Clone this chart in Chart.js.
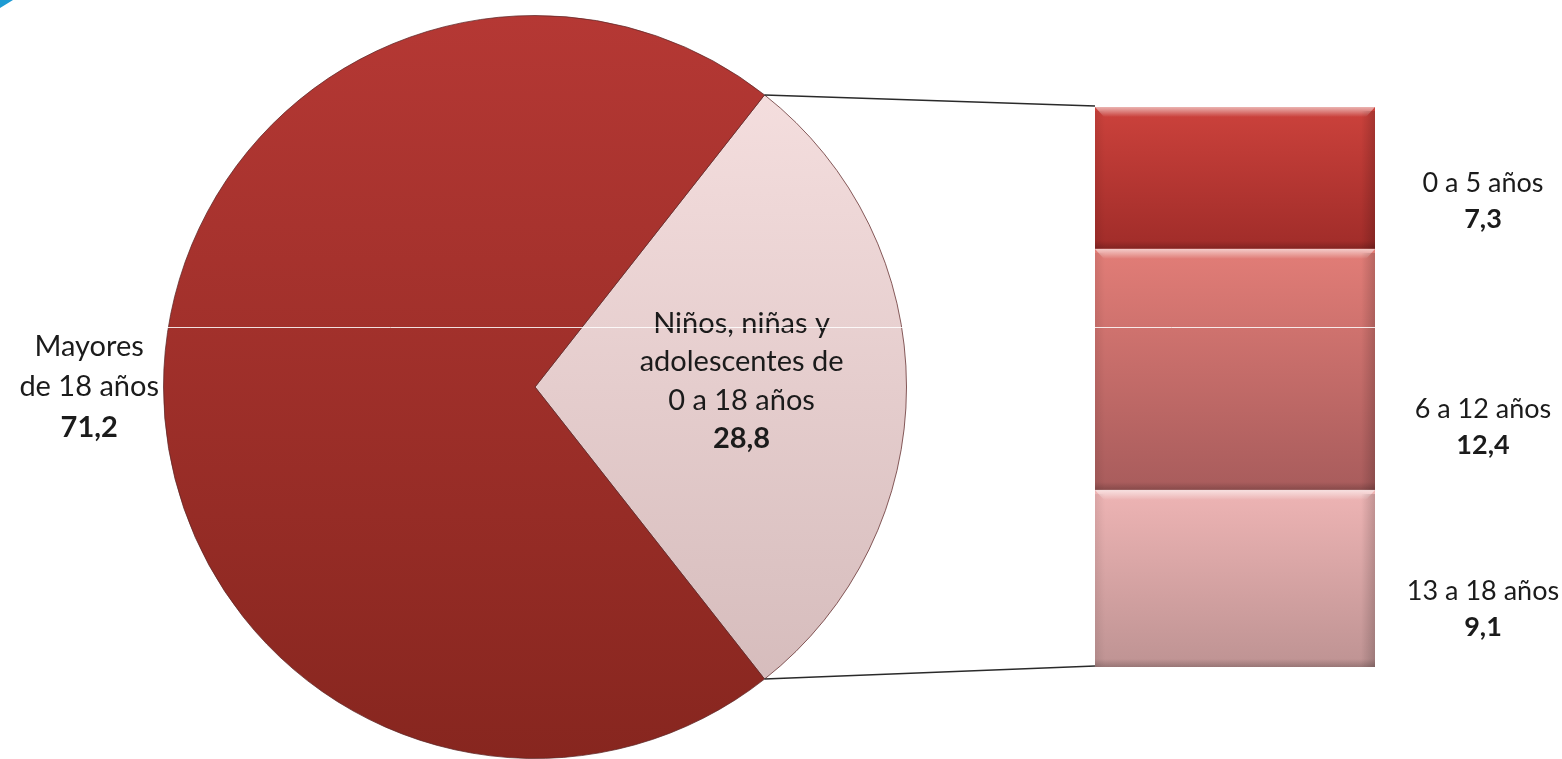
<!DOCTYPE html>
<html>
<head>
<meta charset="utf-8">
<script src="https://cdn.jsdelivr.net/npm/chart.js@4.4.0/dist/chart.umd.min.js"></script>
<style>
html, body { margin: 0; padding: 0; background: #fff; }
#wrap { position: relative; width: 1562px; height: 759px; overflow: hidden; }
#wrap canvas { position: absolute; left: 0; top: 0; }
</style>
</head>
<body>
<div id="wrap">
  <canvas id="pieChart" width="1562" height="759"></canvas>
  <canvas id="barChart" width="1562" height="759"></canvas>
</div>
<script>
// Datos (porcentaje de la población)
const pieLabels = [['Niños, niñas y', 'adolescentes de', '0 a 18 años'], ['Mayores', 'de 18 años']];
const pieValues = [28.8, 71.2];

const barLabels = ['0 a 5 años', '6 a 12 años', '13 a 18 años'];
const barValues = [7.3, 12.4, 9.1];

// Colores (degradado de arriba a abajo)
const pieTop = ['#f8e2e2', '#b53834'];
const pieBottom = ['#d2b8b8', '#87261f'];
const barTop = ['#cc423c', '#e27d77', '#eeb4b4'];
const barBottom = ['#a02c29', '#a85c5c', '#be9393'];
const barLabelDy = [23, 58, 31];

const fmt = v => v.toFixed(1).replace('.', ',');
const total = pieValues[0] + pieValues[1];

function pieGradient(ctx) {
    const chart = ctx.chart;
    const a = chart.chartArea;
    const i = ctx.dataIndex;
    if (!a) return pieTop[i];
    const g = chart.ctx.createLinearGradient(0, a.top, 0, a.bottom);
    g.addColorStop(0, pieTop[i]);
    g.addColorStop(1, pieBottom[i]);
    return g;
}

const pieLabelPlugin = {
    id: 'pieLabels',
    afterDatasetsDraw(chart) {
        const c = chart.ctx;
        const arcs = chart.getDatasetMeta(0).data;
        c.save();
        c.textAlign = 'center';
        c.textBaseline = 'middle';
        c.fillStyle = '#1b1b1b';
        arcs.forEach((arc, i) => {
            const mid = (arc.startAngle + arc.endAngle) / 2;
            const k = i === 0 ? 0.556 : 1.2;
            const x = arc.x + Math.cos(mid) * arc.outerRadius * k;
            const y = arc.y + Math.sin(mid) * arc.outerRadius * k + (i === 0 ? -6 : 0);
            const lines = pieLabels[i];
            const step = i === 0 ? 38.5 : 40.5;
            const y0 = y - lines.length * step / 2;
            c.font = '29px Lato';
            lines.forEach((t, j) => c.fillText(t, x, y0 + j * step));
            c.font = 'bold 29px Lato';
            c.fillText(fmt(pieValues[i]), x, y0 + lines.length * step);
        });
        c.restore();
    }
};

const pieChart = new Chart(document.getElementById('pieChart'), {
    type: 'pie',
    data: {
        labels: pieLabels.map(l => l.join(' ')),
        datasets: [{
            data: pieValues,
            backgroundColor: pieGradient,
            borderColor: 'rgba(95, 40, 40, 0.75)',
            borderWidth: 1
        }]
    },
    options: {
        responsive: false,
        animation: false,
        rotation: 90 - pieValues[0] / total * 180,
        layout: { padding: { left: 163, right: 655, top: 15, bottom: 0 } },
        plugins: { legend: { display: false }, tooltip: { enabled: false } }
    },
    plugins: [pieLabelPlugin]
});

// Barra apilada: el índice 0 va arriba
function segGradient(chart, i) {
    const y = chart.scales.y;
    if (!y || !chart.chartArea) return barTop[i];
    const below = barValues.slice(i + 1).reduce((a, b) => a + b, 0);
    const top = y.getPixelForValue(below + barValues[i]);
    const bot = y.getPixelForValue(below);
    const g = chart.ctx.createLinearGradient(0, top, 0, bot);
    g.addColorStop(0, barTop[i]);
    g.addColorStop(1, barBottom[i]);
    return g;
}

const barExtras = {
    id: 'barExtras',
    afterDatasetsDraw(chart) {
        const c = chart.ctx;
        const n = barValues.length;
        c.save();
        // relieve de cada segmento
        for (let d = 0; d < n; d++) {
            const el = chart.getDatasetMeta(d).data[0];
            const l = el.x - el.width / 2, r = el.x + el.width / 2;
            const t = el.y, b = el.base;
            let g = c.createLinearGradient(0, t, 0, t + 10);
            g.addColorStop(0, 'rgba(255,255,255,0.6)');
            g.addColorStop(1, 'rgba(255,255,255,0)');
            c.fillStyle = g;
            c.beginPath();
            c.moveTo(l, t); c.lineTo(r, t); c.lineTo(r - 9, t + 10); c.lineTo(l + 9, t + 10);
            c.closePath(); c.fill();
            g = c.createLinearGradient(r - 14, 0, r, 0);
            g.addColorStop(0, 'rgba(0,0,0,0)');
            g.addColorStop(1, 'rgba(0,0,0,0.18)');
            c.fillStyle = g;
            c.fillRect(r - 14, t + 4, 14, b - t - 4);
            g = c.createLinearGradient(l, 0, l + 10, 0);
            g.addColorStop(0, 'rgba(0,0,0,0.08)');
            g.addColorStop(1, 'rgba(0,0,0,0)');
            c.fillStyle = g;
            c.fillRect(l, t + 4, 10, b - t - 4);
            g = c.createLinearGradient(0, b - 8, 0, b);
            g.addColorStop(0, 'rgba(0,0,0,0)');
            g.addColorStop(1, 'rgba(0,0,0,0.2)');
            c.fillStyle = g;
            c.fillRect(l, b - 8, r - l, 8);
        }
        // líneas de conexión entre la porción y la barra
        const arc = pieChart.getDatasetMeta(0).data[0];
        const topEl = chart.getDatasetMeta(n - 1).data[0];
        const botEl = chart.getDatasetMeta(0).data[0];
        const bl = topEl.x - topEl.width / 2;
        c.strokeStyle = '#2a2a2a';
        c.lineWidth = 1.5;
        c.beginPath();
        c.moveTo(arc.x + Math.cos(arc.startAngle) * arc.outerRadius, arc.y + Math.sin(arc.startAngle) * arc.outerRadius);
        c.lineTo(bl, topEl.y - 1);
        c.moveTo(arc.x + Math.cos(arc.endAngle) * arc.outerRadius, arc.y + Math.sin(arc.endAngle) * arc.outerRadius);
        c.lineTo(bl, botEl.base - 1);
        c.stroke();
        // etiquetas de los segmentos
        c.textAlign = 'center';
        c.textBaseline = 'middle';
        c.fillStyle = '#1b1b1b';
        for (let i = 0; i < n; i++) {
            const el = chart.getDatasetMeta(n - 1 - i).data[0];
            const x = el.x + el.width / 2 + 108;
            const y = (el.y + el.base) / 2 + barLabelDy[i];
            c.font = '27px Lato';
            c.fillText(barLabels[i], x, y - 18);
            c.font = 'bold 27px Lato';
            c.fillText(fmt(barValues[i]), x, y + 18);
        }
        // detalles de la imagen original
        c.strokeStyle = 'rgba(255,255,255,0.85)';
        c.lineWidth = 1;
        c.beginPath();
        c.moveTo(0, 327.5); c.lineTo(1562, 327.5);
        c.stroke();
        c.fillStyle = '#1e9bd3';
        c.beginPath();
        c.moveTo(0, 0); c.lineTo(13, 0); c.lineTo(0, 8);
        c.closePath(); c.fill();
        c.restore();
    }
};

const order = barValues.map((v, i) => i).reverse();

const barChart = new Chart(document.getElementById('barChart'), {
    type: 'bar',
    data: {
        labels: [''],
        datasets: order.map(i => ({
            label: barLabels[i],
            data: [barValues[i]],
            backgroundColor: ctx => segGradient(ctx.chart, i),
            borderWidth: 0,
            barPercentage: 1,
            categoryPercentage: 1
        }))
    },
    options: {
        responsive: false,
        animation: false,
        layout: { padding: { left: 1095, right: 187, top: 107, bottom: 92 } },
        scales: {
            x: { stacked: true, display: false },
            y: { stacked: true, display: false, min: 0, max: barValues.reduce((a, b) => a + b, 0) }
        },
        plugins: { legend: { display: false }, tooltip: { enabled: false } }
    },
    plugins: [barExtras]
});
</script>
</body>
</html>
